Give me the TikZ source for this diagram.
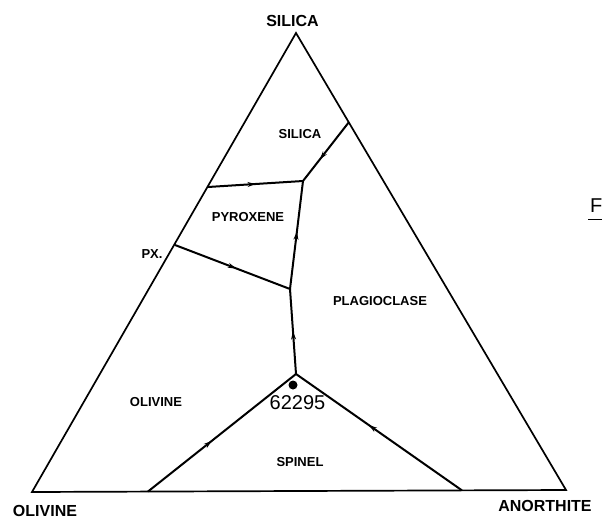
\documentclass[tikz,border=0pt]{standalone}
\usepackage{fontspec}
\setmainfont{Liberation Sans}
\usetikzlibrary{arrows.meta,decorations.markings}
\tikzset{
  edge/.style={line width=1.7pt},
  bound/.style={line width=2pt},
  marr/.style={postaction={decorate},decoration={markings,mark=at position #1 with {\arrow{Stealth[length=8pt,width=5pt]}}}},
  lab/.style={font=\bfseries\fontsize{13}{14}\selectfont, inner sep=0pt},
  corner/.style={font=\bfseries\fontsize{16}{17}\selectfont, inner sep=0pt},
}
\begin{document}
\begin{tikzpicture}[x=1pt,y=-1pt]
\useasboundingbox (0,0) rectangle (602,519);
% vertices
\coordinate (S) at (296,33);
\coordinate (O) at (32,492);
\coordinate (A) at (566,490);
% boundary points
\coordinate (sp) at (349,122);
\coordinate (E1) at (303,181);
\coordinate (sl) at (208,187);
\coordinate (px) at (175,245);
\coordinate (R1) at (290,289);
\coordinate (R2) at (296,374);
\coordinate (spl) at (148,491.5);
\coordinate (spr) at (462,490.4);
% triangle
\draw[edge, line join=miter] (O) -- (S) -- (A) -- cycle;
% cotectics
\draw[bound, marr=0.63] (sp) -- (E1);
\draw[bound, marr=0.5] (sl) -- (E1);
\draw[bound, marr=0.53] (px) -- (R1);
\draw[bound, marr=0.53] (R1) -- (E1);
\draw[bound, marr=0.5] (R2) -- (R1);
\draw[bound, marr=0.43] (spl) -- (R2);
\draw[bound, marr=0.56] (spr) -- (R2);
% sample point
\fill (293,385) circle (4.5pt);
% labels
\node[corner] (tS) at (292.5,21) {SILICA};
\node[corner] (tO) at (45,511) {OLIVINE};
\node[corner] (tA) at (545,506) {ANORTHITE};
\node[lab] (rS) at (300,134) {SILICA};
\node[lab] (rP) at (248,217) {PYROXENE};
\node[lab] (rPX) at (152,254.5) {PX.};
\node[lab] (rPl) at (380,301) {PLAGIOCLASE};
\node[lab] (rO) at (156,402) {OLIVINE};
\node[lab] (rSp) at (300,462) {SPINEL};
\node[inner sep=0pt, font=\fontsize{20}{21}\selectfont] (n62) at (297.5,402.5) {62295};
\node[anchor=west, inner sep=0pt, font=\fontsize{20}{21}\selectfont] (F) at (590,206) {F};
\draw[line width=1pt] (588,219) -- (602,219);
\end{tikzpicture}
\end{document}
